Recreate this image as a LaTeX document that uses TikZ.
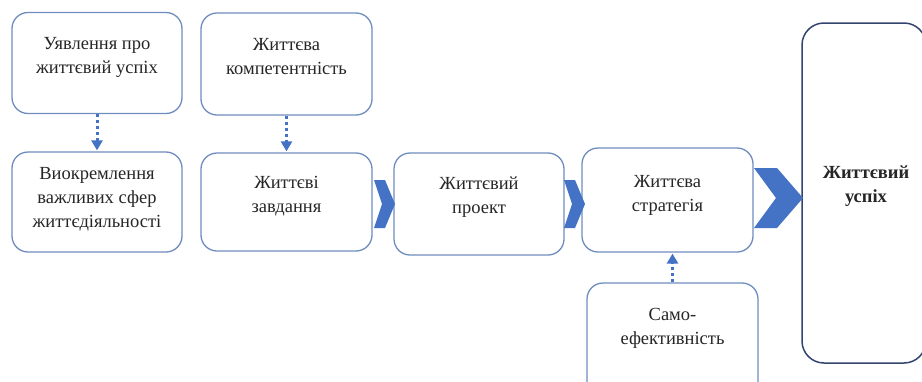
\documentclass[tikz,border=0pt]{standalone}
\usepackage{fontspec}
\setmainfont{Liberation Serif}
\usetikzlibrary{arrows.meta}
\definecolor{boxline}{HTML}{6F8CC0}
\definecolor{darkline}{HTML}{33456E}
\definecolor{chev}{HTML}{4472C4}
\definecolor{txtc}{HTML}{262626}
\begin{document}
\begin{tikzpicture}[x=1pt,y=-1pt,
  box/.style={draw=boxline, line width=1.3pt, rounded corners=16pt, fill=white, inner sep=0pt},
  bigbox/.style={draw=darkline, line width=1.5pt, rounded corners=22pt, fill=white, inner sep=0pt},
  txt/.style={font=\fontsize{18.5}{24}\selectfont, align=center, text=txtc, inner sep=0pt},
  dotarrow/.style={draw=chev, line width=3pt, dash pattern=on 3pt off 3pt, -{Triangle[width=11pt,length=10pt]}, shorten >=1pt},
  chevshape/.style={fill=chev}]
\path[use as bounding box] (0,0) rectangle (922,381);
\clip (0,0) rectangle (922,381);
% boxes
\node[box, minimum width=170pt, minimum height=101pt] (b1) at (97,63) {};
\node[box, minimum width=171pt, minimum height=102pt] (b2) at (286.5,64) {};
\node[box, minimum width=170pt, minimum height=100pt] (b3) at (97,202) {};
\node[box, minimum width=171pt, minimum height=98pt] (b4) at (286.5,202) {};
\node[box, minimum width=170pt, minimum height=102pt] (b5) at (479,204) {};
\node[box, minimum width=171pt, minimum height=104pt] (b6) at (667.5,200) {};
\node[box, minimum width=171pt, minimum height=130pt] (b7) at (672.5,348) {};
\node[bigbox, minimum width=124pt, minimum height=340pt] (b8) at (864,193) {};
% texts
\node[txt] (t1) at (97,57) {Уявлення про\\життєвий успіх};
\node[txt] (t2) at (286.5,57) {Життєва\\компетентність};
\node[txt] (t3) at (97,199) {Виокремлення\\важливих сфер\\життєдіяльності};
\node[txt] (t4) at (286.5,196) {Життєві\\завдання};
\node[txt] (t5) at (479,197) {Життєвий\\проект};
\node[txt] (t6) at (667.5,195) {Життєва\\стратегія};
\node[txt] (t7) at (672.5,328) {Само-\\ефективність};
\node[txt, font=\fontsize{18.5}{24}\selectfont\bfseries] (t8) at (866,186) {Життєвий\\успіх};
% dotted arrows
\draw[dotarrow] (b1.south) -- (b3.north);
\draw[dotarrow] (b2.south) -- (b4.north);
\draw[dotarrow] (b7.north) -- (b7.north |- b6.south);
% chevrons
\fill[chevshape] (374,180) -- (385,180) -- (395,204) -- (385,228) -- (374,228) -- (382,204) -- cycle;
\fill[chevshape] (564,180) -- (575,180) -- (585,204) -- (575,228) -- (564,228) -- (572,204) -- cycle;
\fill[chevshape] (754,168) -- (777,168) -- (803,198) -- (777,228) -- (754,228) -- (776,198) -- cycle;
\end{tikzpicture}
\end{document}
